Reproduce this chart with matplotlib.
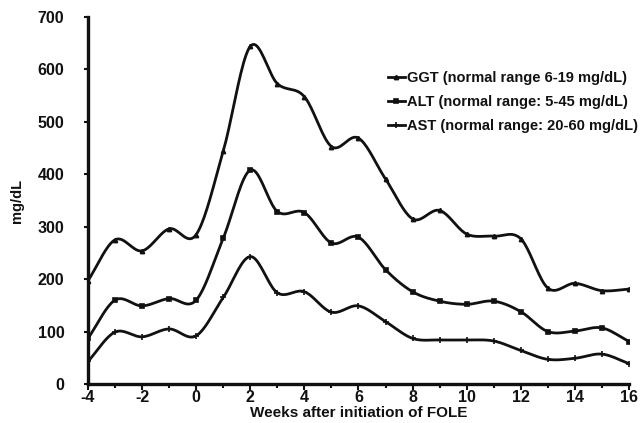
import numpy as np
import matplotlib.pyplot as plt
from matplotlib.lines import Line2D

plt.rcParams['font.family'] = ['Liberation Sans', 'DejaVu Sans']
plt.rcParams['font.weight'] = 'bold'
plt.rcParams['axes.unicode_minus'] = False

weeks = list(range(-4, 17))
ggt = [197, 275, 254, 296, 285, 444, 644, 573, 548, 453, 469, 391, 315, 331,
       286, 282, 277, 183, 192, 178, 181]
alt = [87, 160, 149, 163, 160, 278, 408, 329, 327, 269, 280, 218, 176, 158,
       152, 158, 138, 100, 101, 107, 81]
ast = [43, 99, 90, 105, 92, 165, 243, 174, 176, 137, 149, 119, 87, 84,
       84, 82, 64, 47, 49, 57, 39]

labels = ["GGT (normal range 6-19 mg/dL)",
          "ALT (normal range: 5-45 mg/dL)",
          "AST (normal range: 20-60 mg/dL)"]
markers = ["^", "s", "+"]
msizes = [3, 3.5, 4]


def smooth(x, y, n=20):
    # Catmull-Rom curve through the points, for the rounded line look
    x = np.asarray(x, float)
    y = np.asarray(y, float)
    px = np.concatenate([[2 * x[0] - x[1]], x, [2 * x[-1] - x[-2]]])
    py = np.concatenate([[2 * y[0] - y[1]], y, [2 * y[-1] - y[-2]]])
    xs, ys = [], []
    t = np.linspace(0, 1, n, endpoint=False)
    for i in range(1, len(px) - 2):
        for p, out in ((px, xs), (py, ys)):
            p0, p1, p2, p3 = p[i - 1], p[i], p[i + 1], p[i + 2]
            out.extend(0.5 * (2 * p1 + (-p0 + p2) * t
                              + (2 * p0 - 5 * p1 + 4 * p2 - p3) * t ** 2
                              + (-p0 + 3 * p1 - 3 * p2 + p3) * t ** 3))
    xs.append(x[-1])
    ys.append(y[-1])
    return np.array(xs), np.array(ys)


fig = plt.figure(figsize=(6.44, 4.23), dpi=100)
ax = fig.add_axes([0.1366, 0.0922, 0.8401, 0.8676])

handles = []
for vals, lab, mk, ms in zip([ggt, alt, ast], labels, markers, msizes):
    sx, sy = smooth(weeks, vals)
    ax.plot(sx, sy, color='#111111', linewidth=2.0, solid_capstyle='round')
    ax.plot(weeks, vals, linestyle='none', marker=mk, markersize=ms,
            color='#111111', markeredgewidth=1.2)
    handles.append(Line2D([], [], color='#111111', linewidth=2.0, marker=mk,
                          markersize=ms, markeredgewidth=1.2, label=lab))

ax.set_xlim(-4, 16)
ax.set_ylim(0, 700)
ax.set_xticks(range(-4, 17, 2))
ax.set_xticks(range(-4, 17), minor=True)
ax.set_yticks(range(0, 701, 100))

for side in ['top', 'right']:
    ax.spines[side].set_visible(False)
for side in ['left', 'bottom']:
    ax.spines[side].set_linewidth(2.4)
    ax.spines[side].set_color('#111111')

ax.tick_params(axis='both', which='both', direction='out', width=1.5,
               colors='#111111', labelsize=11.5)
ax.tick_params(axis='x', which='major', length=4, pad=0)
ax.tick_params(axis='x', which='minor', length=3)
ax.tick_params(axis='y', length=3, pad=14)
for lbl in ax.get_xticklabels() + ax.get_yticklabels():
    lbl.set_fontweight('bold')

ax.set_xlabel("Weeks after initiation of FOLE", fontsize=11,
              fontweight='bold', labelpad=1, color='#111111')
ax.set_ylabel("mg/dL", fontsize=10.5, fontweight='bold', labelpad=10,
              color='#111111')

leg = ax.legend(handles=handles, loc='upper left', frameon=False,
                bbox_to_anchor=(0.543, 0.868), handlelength=1.2,
                handletextpad=0.1, labelspacing=0.68, borderaxespad=0,
                prop={'size': 10.5, 'weight': 'bold'})
for t in leg.get_texts():
    t.set_color('#111111')

fig.savefig("out.png", dpi=100)
